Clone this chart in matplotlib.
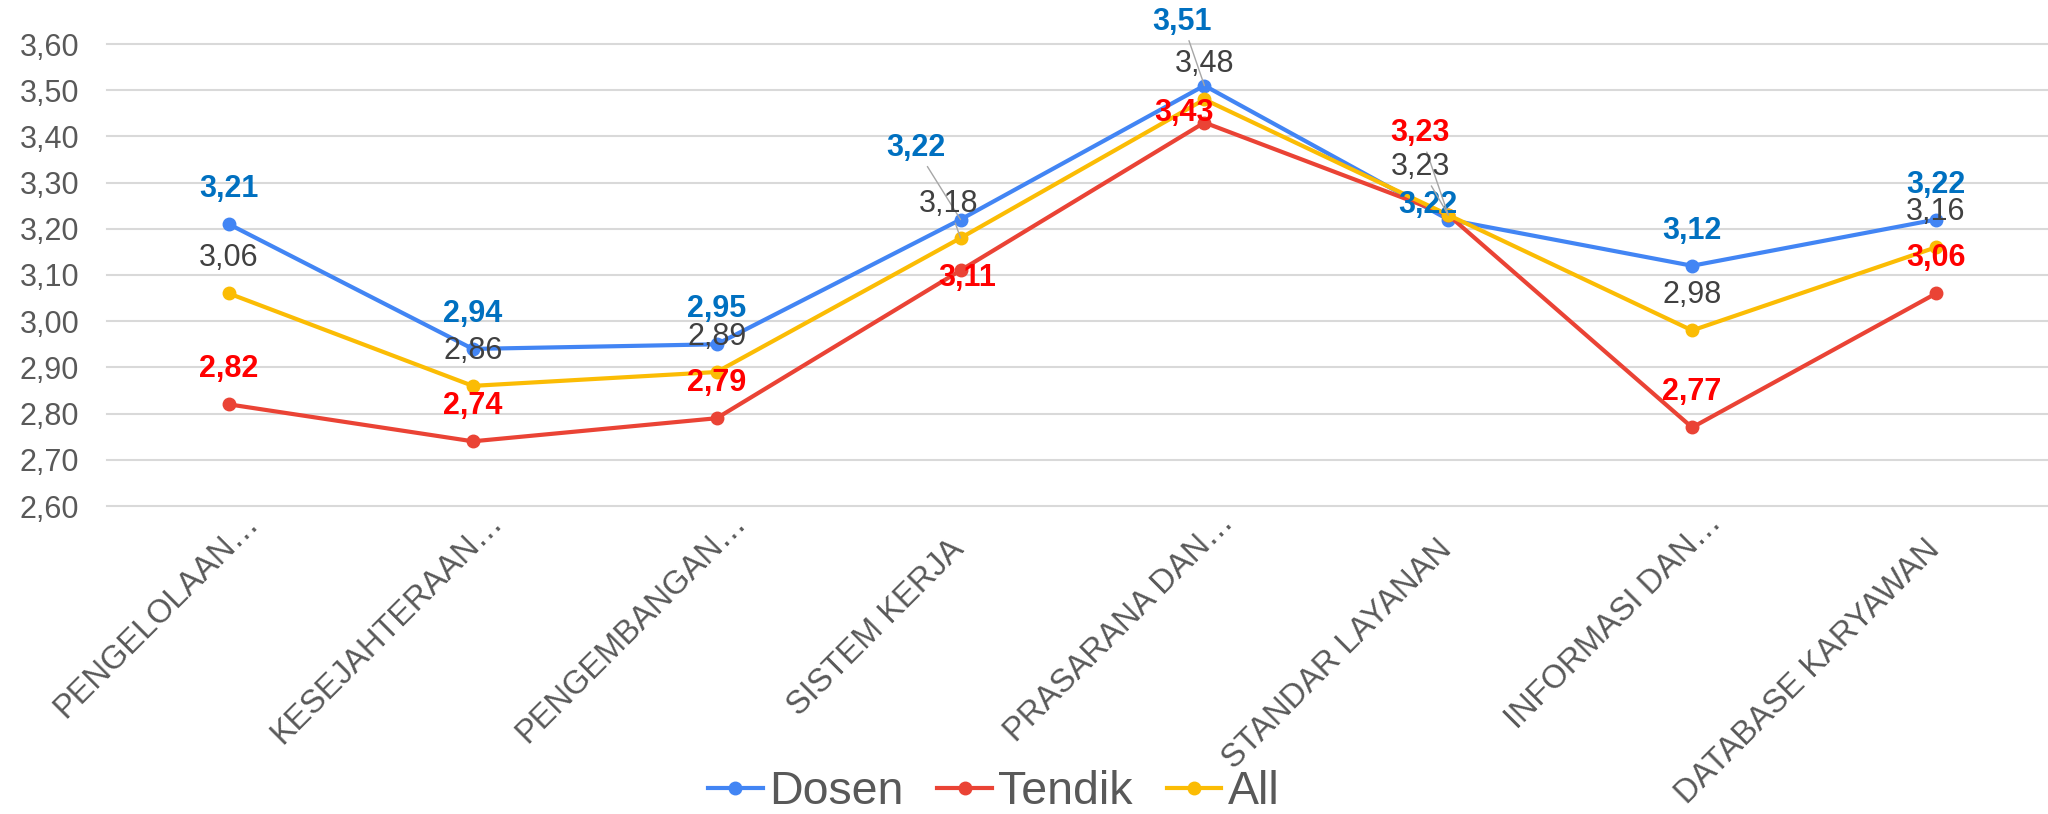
import matplotlib
matplotlib.use("Agg")
import matplotlib.pyplot as plt
import matplotlib.transforms as mtransforms
from matplotlib.ticker import MultipleLocator, FuncFormatter

# ---------------- data ----------------
categories = ["PENGELOLAAN…", "KESEJAHTERAAN…", "PENGEMBANGAN…", "SISTEM KERJA",
              "PRASARANA DAN…", "STANDAR LAYANAN", "INFORMASI DAN…", "DATABASE KARYAWAN"]
dosen = [3.21, 2.94, 2.95, 3.22, 3.51, 3.22, 3.12, 3.22]
tendik = [2.82, 2.74, 2.79, 3.11, 3.43, 3.23, 2.77, 3.06]
all_vals = [3.06, 2.86, 2.89, 3.18, 3.48, 3.23, 2.98, 3.16]
series_names = ["Dosen", "Tendik", "All"]

# ---------------- label placement (pixels) ----------------
D = (0, 35)
dosen_off = [D, D, D, (-45, 72), (-22, 64), (-20, 15), D, D]
tendik_off = [D, D, D, (7, -8), (-20, 10), (-28, 82), D, D]
all_off = [D, D, D, (-12, 34), D, (-28, 48), D, D]
dosen_lead = [False, False, False, True, True, False, False, False]
tendik_lead = [False, False, False, False, False, True, False, False]
all_lead = [False, False, False, True, False, True, False, False]

plt.rcParams['font.family'] = ['Liberation Sans', 'DejaVu Sans']

W, H = 2048, 814
fig = plt.figure(figsize=(W / 100, H / 100), dpi=100)
ax = fig.add_axes([107 / W, (H - 506) / H, (W - 107) / W, 462 / H])

x = list(range(len(categories)))
styles = [
    (dosen, "#4285F4", "#0070C0", "bold", dosen_off, dosen_lead),
    (tendik, "#EA4335", "#FF0000", "bold", tendik_off, tendik_lead),
    (all_vals, "#FBBC04", "#404040", "normal", all_off, all_lead),
]

for (vals, lc, tc, fw, offs, leads), name in zip(styles, series_names):
    ax.plot(x, vals, color=lc, lw=3, marker="o", ms=9, label=name,
            zorder=3, clip_on=False)

for (vals, lc, tc, fw, offs, leads), name in zip(styles, series_names):
    for i, v in enumerate(vals):
        txt = f"{v:.2f}".replace(".", ",")
        kw = {}
        if leads[i]:
            kw["arrowprops"] = dict(arrowstyle="-", color="#a6a6a6", lw=1,
                                    shrinkA=1, shrinkB=0)
        ax.annotate(txt, xy=(i, v), xytext=offs[i], textcoords="offset pixels",
                    ha="center", va="center", fontsize=22, color=tc,
                    fontweight=fw, zorder=5, annotation_clip=False, **kw)

ax.set_xlim(-0.5, 7 + 112 / 243.9)
ax.set_ylim(2.6, 3.6)
ax.yaxis.set_major_locator(MultipleLocator(0.1))
ax.yaxis.set_major_formatter(FuncFormatter(lambda v, p: f"{v:.2f}".replace(".", ",")))
ax.yaxis.grid(True, color="#d9d9d9", lw=1.5)
for gl in ax.get_ygridlines():
    gl.set_clip_on(False)
ax.set_axisbelow(True)
for s in ax.spines.values():
    s.set_visible(False)
ax.tick_params(axis="y", length=0, pad=20, labelsize=22, labelcolor="#595959")
ax.tick_params(axis="x", length=0, pad=0, labelsize=23.5, labelcolor="#595959")

ax.set_xticks(x)
ax.set_xticklabels(categories, rotation=45, ha="right", va="baseline",
                   rotation_mode="anchor")
for lab in ax.get_xticklabels():
    if lab.get_text().endswith("…"):
        dx, dy = 31, -18
    else:
        dx, dy = 5, -45
    shift = mtransforms.ScaledTranslation(dx / 100, dy / 100, fig.dpi_scale_trans)
    lab.set_transform(lab.get_transform() + shift)

ax.legend(loc="center", bbox_to_anchor=(993.5 / W, 1 - 792 / H),
          bbox_transform=fig.transFigure, ncol=3, frameon=False, fontsize=33.5,
          handlelength=1.18, handletextpad=0.13, columnspacing=0.73,
          borderpad=0, labelcolor="#595959")

fig.savefig("out.png", dpi=100)
